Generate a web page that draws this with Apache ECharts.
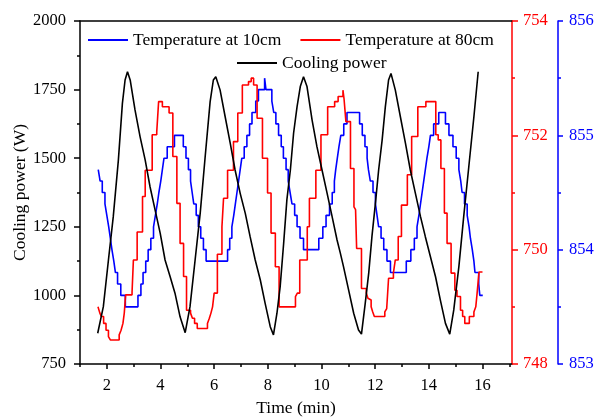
<!DOCTYPE html>
<html>
<head>
<meta charset="utf-8">
<script src="https://cdn.jsdelivr.net/npm/echarts@6/dist/echarts.min.js"></script>
<style>
  html, body { margin: 0; padding: 0; background: #fff; }
  #chart { width: 596px; height: 417px; }
</style>
</head>
<body>
<div id="chart"></div>
<script>
// Cooling power (W) against time (min)
const powerData = [
  [1.66,862],[1.87,959],[2.06,1129],[2.24,1287],[2.43,1493],[2.58,1700],[2.68,1785],[2.77,1815],
  [2.87,1785],[3.05,1676],[3.24,1578],[3.43,1493],[3.61,1396],[3.80,1311],[3.99,1226],[4.17,1129],
  [4.36,1068],[4.54,1008],[4.73,922],[4.92,864],[5.10,959],[5.29,1129],[5.48,1300],[5.66,1500],
  [5.85,1706],[5.97,1785],[6.06,1797],[6.22,1749],[6.41,1651],[6.60,1554],[6.78,1457],[6.97,1372],
  [7.16,1299],[7.34,1214],[7.53,1129],[7.72,1056],[7.90,971],[8.09,886],[8.21,856],[8.34,935],
  [8.46,1032],[8.59,1190],[8.71,1348],[8.84,1457],[8.96,1591],[9.09,1688],[9.21,1761],[9.33,1797],
  [9.46,1761],[9.65,1639],[9.83,1542],[10.02,1457],[10.21,1372],[10.39,1290],[10.58,1202],[10.70,1155],
  [10.82,1105],[11.01,1020],[11.20,935],[11.38,874],[11.49,859],[11.63,971],[11.76,1081],[11.88,1214],
  [12.01,1336],[12.13,1457],[12.26,1566],[12.38,1688],[12.50,1785],[12.59,1809],[12.75,1749],[12.94,1651],
  [13.13,1554],[13.31,1457],[13.50,1372],[13.69,1287],[13.87,1214],[14.06,1141],[14.25,1068],[14.43,983],
  [14.62,898],[14.78,859],[14.93,947],[15.12,1105],[15.30,1287],[15.49,1469],[15.68,1651],[15.84,1815]
];

// Temperature at 10 cm: each pair is the time a reading starts and its value
const temp10Data = [
  [1.68,854.7],[1.75,854.6],[1.83,854.5],[1.93,854.4],[2.00,854.3],[2.07,854.2],[2.13,854.1],[2.19,854.0],
  [2.26,853.9],[2.32,853.8],[2.40,853.7],[2.52,853.6],[2.69,853.5],
  [3.16,853.6],[3.27,853.7],[3.35,853.8],[3.45,853.9],[3.54,854.0],[3.64,854.1],[3.74,854.2],[3.81,854.3],
  [3.88,854.4],[3.94,854.5],[4.01,854.6],[4.07,854.7],[4.13,854.8],[4.25,854.9],[4.52,855.0],
  [4.85,854.9],[4.95,854.8],[5.04,854.7],[5.12,854.6],[5.18,854.5],[5.24,854.4],[5.33,854.3],[5.41,854.2],
  [5.50,854.1],[5.60,854.0],[5.70,853.9],
  [6.50,854.0],[6.58,854.1],[6.66,854.2],[6.73,854.3],[6.79,854.4],[6.85,854.5],[6.91,854.6],[6.97,854.7],
  [7.03,854.8],[7.12,854.9],[7.22,855.0],[7.32,855.1],[7.41,855.2],[7.55,855.3],[7.65,855.4],[7.88,855.5],
  [7.93,855.4],
  [8.15,855.3],[8.22,855.2],[8.30,855.1],[8.40,855.0],[8.50,854.9],[8.58,854.8],[8.68,854.7],[8.76,854.6],
  [8.83,854.5],[8.90,854.4],[9.00,854.3],[9.09,854.2],[9.20,854.1],[9.33,854.0],
  [9.90,854.1],[10.05,854.2],[10.17,854.3],[10.30,854.4],[10.40,854.5],[10.48,854.6],[10.53,854.7],
  [10.59,854.8],[10.65,854.9],[10.72,855.0],[10.83,855.1],[10.95,855.2],
  [11.42,855.1],[11.52,855.0],[11.62,854.9],[11.70,854.8],[11.75,854.7],[11.82,854.6],[11.92,854.5],
  [12.01,854.4],[12.07,854.3],[12.13,854.2],[12.22,854.1],[12.32,854.0],[12.44,853.9],[12.57,853.8],
  [13.16,853.9],[13.33,854.0],[13.46,854.1],[13.56,854.2],[13.63,854.3],[13.69,854.4],[13.75,854.5],
  [13.81,854.6],[13.87,854.7],[13.93,854.8],[14.00,854.9],[14.06,855.0],[14.18,855.1],[14.37,855.2],
  [14.62,855.1],[14.75,855.0],[14.90,854.9],[15.02,854.8],[15.12,854.7],[15.19,854.6],[15.24,854.5],
  [15.33,854.4],[15.43,854.3],[15.50,854.2],[15.55,854.1],[15.62,854.0],[15.68,853.9],[15.72,853.8],
  [15.86,853.7],[15.90,853.6],[16.01,853.6]
];

// Temperature at 80 cm: each pair is the time a reading starts and its value
const temp80Data = [
  [1.67,749.00],[1.74,748.89],[1.80,748.83],[1.88,748.71],[1.97,748.59],[2.06,748.48],[2.13,748.42],
  [2.46,748.51],[2.53,748.59],[2.60,748.71],[2.65,748.89],[2.70,749.21],[2.94,749.26],[2.99,749.82],
  [3.13,750.31],[3.33,750.93],[3.43,751.39],[3.69,752.01],[3.86,752.06],[3.93,752.59],[4.07,752.50],
  [4.32,752.39],[4.46,751.63],[4.61,750.81],[4.73,750.11],[4.86,749.53],[4.97,748.94],[5.12,748.89],
  [5.19,748.80],[5.27,748.71],[5.37,748.62],[5.75,748.71],[5.82,748.80],[5.88,748.89],[5.94,749.00],
  [6.00,749.24],[6.12,749.92],[6.29,750.40],[6.35,750.90],[6.50,751.39],[6.72,751.89],[6.88,752.39],
  [7.05,752.88],[7.28,752.94],[7.38,753.00],[7.47,752.88],[7.60,752.30],[7.80,751.60],[7.99,750.99],
  [8.12,750.29],[8.28,749.70],[8.42,749.00],[9.03,749.18],[9.10,749.24],[9.19,749.82],[9.47,750.40],
  [9.55,750.90],[9.79,751.39],[9.98,752.01],[10.23,752.50],[10.49,752.59],[10.62,752.68],[10.80,752.79],
  [10.84,752.64],[10.91,752.24],[11.08,751.42],[11.21,750.75],[11.27,750.70],[11.31,750.02],[11.49,749.32],
  [11.67,749.24],[11.73,749.15],[11.79,749.12],[11.85,749.00],[11.91,748.91],[11.97,748.83],[12.36,748.91],
  [12.43,748.97],[12.50,749.50],[12.68,749.59],[12.75,749.82],[12.86,750.23],[12.98,750.78],[13.20,751.31],
  [13.36,751.98],[13.59,752.50],[13.89,752.59],[14.26,752.01],[14.35,751.92],[14.45,751.42],[14.58,750.64],
  [14.68,750.11],[14.83,749.59],[14.97,749.29],[15.05,749.18],[15.18,748.94],[15.26,748.83],[15.34,748.71],
  [15.51,748.83],[15.68,748.91],[15.75,749.00],[15.80,749.24],[15.87,749.61],[16.00,749.61]
];

// Tick positions on the time axis
const timeMajorTicks = [2, 4, 6, 8, 10, 12, 14, 16];
const timeMinorTicks = [1, 3, 5, 7, 9, 11, 13, 15, 17];

const FONT = '"Liberation Serif", "Times New Roman", serif';
const BLUE = '#0000ff';
const RED = '#ff0000';
const BLACK = '#000000';

const chart = echarts.init(document.getElementById('chart'), null, { renderer: 'canvas' });

const baseText = { fontFamily: FONT, fontSize: 16.5, color: BLACK };
const plainNumber = v => String(v);

chart.setOption({
  animation: false,
  backgroundColor: '#ffffff',
  grid: { left: 80, right: 84, top: 21, bottom: 53, containLabel: false, outerBoundsMode: 'none' },
  legend: [
    {
      data: ['Temperature at 10cm', 'Temperature at 80cm'],
      left: 88, top: 31, padding: 0,
      icon: 'rect', itemWidth: 40, itemHeight: 2, itemGap: 19,
      textStyle: { fontFamily: FONT, fontSize: 17.5, color: BLACK }
    },
    {
      data: ['Cooling power'],
      left: 237, top: 54, padding: 0,
      icon: 'rect', itemWidth: 40, itemHeight: 2,
      textStyle: { fontFamily: FONT, fontSize: 17.5, color: BLACK }
    }
  ],
  xAxis: [
    {
      type: 'value', min: 1, max: 17.1, position: 'bottom',
      name: 'Time (min)', nameLocation: 'middle', nameGap: 35, nameMoveOverlap: false,
      nameTextStyle: { fontFamily: FONT, fontSize: 17.5, color: BLACK },
      axisLine: { show: true, onZero: false, lineStyle: { color: BLACK, width: 1.5 } },
      axisTick: { show: true, customValues: timeMajorTicks, length: 5, lineStyle: { color: BLACK, width: 1.5 } },
      axisLabel: { show: true, customValues: timeMajorTicks, margin: 13, ...baseText },
      splitLine: { show: false }
    },
    {
      type: 'value', min: 1, max: 17.1, position: 'bottom',
      axisLine: { show: false, onZero: false },
      axisTick: { show: true, customValues: timeMinorTicks, length: 3, lineStyle: { color: BLACK, width: 1.5 } },
      axisLabel: { show: false },
      splitLine: { show: false }
    },
    {
      // top frame line
      type: 'value', min: 1, max: 17.1, position: 'top',
      axisLine: { show: true, onZero: false, lineStyle: { color: BLACK, width: 1.5 } },
      axisTick: { show: false }, axisLabel: { show: false }, splitLine: { show: false }
    }
  ],
  yAxis: [
    {
      type: 'value', min: 750, max: 2000, interval: 250, position: 'left',
      name: 'Cooling power (W)', nameLocation: 'middle', nameGap: 51, nameRotate: 90,
      nameMoveOverlap: false,
      nameTextStyle: { fontFamily: FONT, fontSize: 17.5, color: BLACK },
      axisLine: { show: true, onZero: false, lineStyle: { color: BLACK, width: 1.5 } },
      axisTick: { show: true, length: 6, lineStyle: { color: BLACK, width: 1.5 } },
      minorTick: { show: true, splitNumber: 2, length: 3, lineStyle: { color: BLACK, width: 1.5 } },
      axisLabel: { margin: 14, formatter: plainNumber, ...baseText },
      splitLine: { show: false }
    },
    {
      type: 'value', min: 748, max: 754, interval: 2, position: 'right', offset: 0,
      axisLine: { show: true, onZero: false, lineStyle: { color: RED, width: 1.5 } },
      axisTick: { show: true, length: 6, lineStyle: { color: RED, width: 1.5 } },
      minorTick: { show: true, splitNumber: 2, length: 3, lineStyle: { color: RED, width: 1.5 } },
      axisLabel: { margin: 11, formatter: plainNumber, ...baseText, color: RED },
      splitLine: { show: false }
    },
    {
      type: 'value', min: 853, max: 856, interval: 1, position: 'right', offset: 46,
      axisLine: { show: true, onZero: false, lineStyle: { color: BLUE, width: 1.5 } },
      axisTick: { show: true, length: 5, lineStyle: { color: BLUE, width: 1.5 } },
      minorTick: { show: true, splitNumber: 2, length: 3, lineStyle: { color: BLUE, width: 1.5 } },
      axisLabel: { margin: 11, formatter: plainNumber, ...baseText, color: BLUE },
      splitLine: { show: false }
    }
  ],
  series: [
    {
      name: 'Temperature at 10cm', type: 'line', xAxisIndex: 0, yAxisIndex: 2,
      data: temp10Data, step: 'end', showSymbol: false, color: BLUE,
      lineStyle: { color: BLUE, width: 1.6 }
    },
    {
      name: 'Temperature at 80cm', type: 'line', xAxisIndex: 0, yAxisIndex: 1,
      data: temp80Data, step: 'end', showSymbol: false, color: RED,
      lineStyle: { color: RED, width: 1.6 }
    },
    {
      name: 'Cooling power', type: 'line', xAxisIndex: 0, yAxisIndex: 0,
      data: powerData, showSymbol: false, color: BLACK,
      lineStyle: { color: BLACK, width: 1.6 }
    }
  ]
});
</script>
</body>
</html>
